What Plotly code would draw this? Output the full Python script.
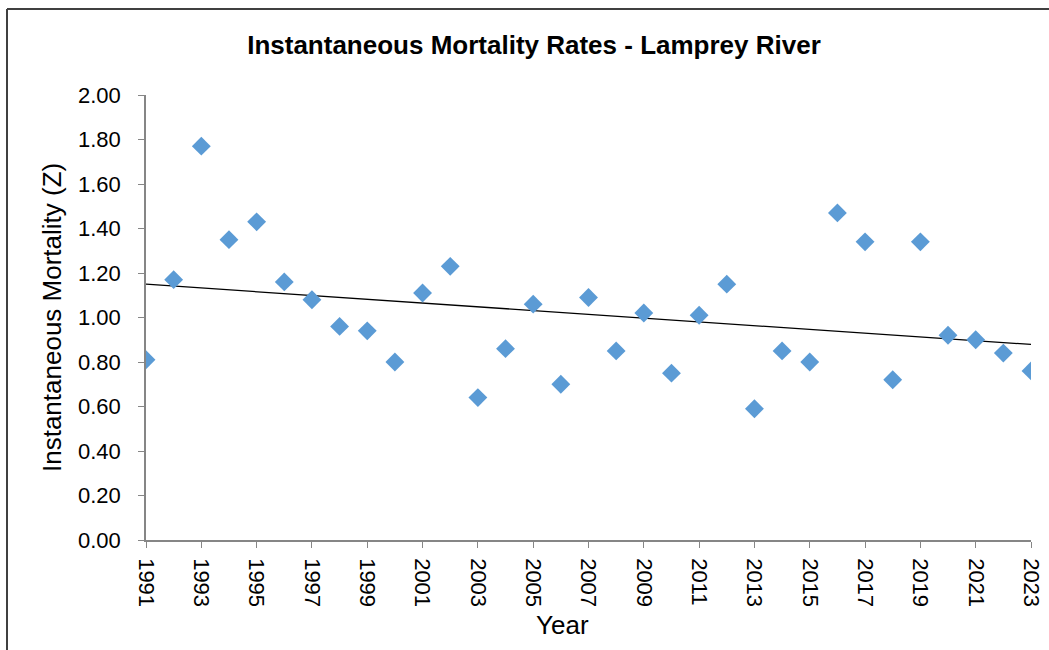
import numpy as np
import plotly.graph_objects as go

years = list(range(1991, 2024))
mortality = [0.81, 1.17, 1.77, 1.35, 1.43, 1.16, 1.08, 0.96, 0.94, 0.80,
             1.11, 1.23, 0.64, 0.86, 1.06, 0.70, 1.09, 0.85, 1.02, 0.75,
             1.01, 1.15, 0.59, 0.85, 0.80, 1.47, 1.34, 0.72, 1.34, 0.92,
             0.90, 0.84, 0.76]
x_ticks = list(range(1991, 2024, 2))
y_ticks = [round(0.2 * i, 2) for i in range(11)]

slope, intercept = np.polyfit(years, mortality, 1)
trend_x = [years[0], years[-1]]
trend_y = [slope * x + intercept for x in trend_x]

FONT = "Liberation Sans, Arial, sans-serif"
fig = go.Figure()
fig.add_trace(go.Scatter(x=trend_x, y=trend_y, mode="lines",
                         line=dict(color="black", width=1.3), showlegend=False, hoverinfo="skip"))
fig.add_trace(go.Scatter(x=years, y=mortality, mode="markers",
                         marker=dict(symbol="diamond", size=14.5, color="#5B9BD5",
                                     line=dict(width=0)), showlegend=False))

W, H = 1049, 650
L, R, T, B = 146, 1031, 95, 540
pw, ph = R - L, B - T

def px(x):
    return (x - L) / pw

def py(y):
    return (B - y) / ph

fig.update_layout(
    width=W, height=H, autosize=False,
    margin=dict(l=L, r=W - R, t=T, b=H - B, autoexpand=False),
    paper_bgcolor="white", plot_bgcolor="white",
    font=dict(family=FONT, color="black"),
    title=dict(text="<b>Instantaneous Mortality Rates - Lamprey River</b>",
               x=534 / W, xref="container", xanchor="center",
               y=1 - 45 / H, yref="container", yanchor="middle",
               font=dict(size=26, family=FONT, color="black")),
    xaxis=dict(range=[1991, 2023], tickvals=x_ticks, ticktext=[str(v) for v in x_ticks],
               tickangle=90, ticks="outside", ticklen=6, tickcolor="#868686",
               showline=True, linecolor="#868686", linewidth=1.5, automargin=False,
               showgrid=False, zeroline=False, ticklabelstandoff=6,
               tickfont=dict(size=22, family=FONT, color="black")),
    yaxis=dict(range=[0, 2.0], tickvals=y_ticks, ticktext=[f"{v:.2f}" for v in y_ticks],
               ticks="outside", ticklen=6, tickcolor="#868686",
               showline=True, linecolor="#868686", linewidth=1.5, automargin=False,
               showgrid=False, zeroline=False, ticklabelstandoff=13,
               tickfont=dict(size=22, family=FONT, color="black")),
    annotations=[
        dict(text="Year", x=px(562), y=py(625), xref="paper", yref="paper",
             showarrow=False, xanchor="center", yanchor="middle",
             font=dict(size=26, family=FONT, color="black")),
        dict(text="Instantaneous Mortality (Z)", x=px(52), y=py(318), xref="paper", yref="paper",
             showarrow=False, xanchor="center", yanchor="middle", textangle=-90,
             font=dict(size=26, family=FONT, color="black")),
    ],
    shapes=[
        dict(type="line", xref="paper", yref="paper", x0=px(7), x1=px(7), y0=py(9), y1=py(700),
             line=dict(color="#404040", width=2)),
        dict(type="line", xref="paper", yref="paper", x0=px(7), x1=px(1100), y0=py(9), y1=py(9),
             line=dict(color="#404040", width=2)),
    ],
)
fig.write_html("out.html", config={"displayModeBar": False},
               post_script="document.body.style.margin='0';document.body.style.overflow='hidden';")
